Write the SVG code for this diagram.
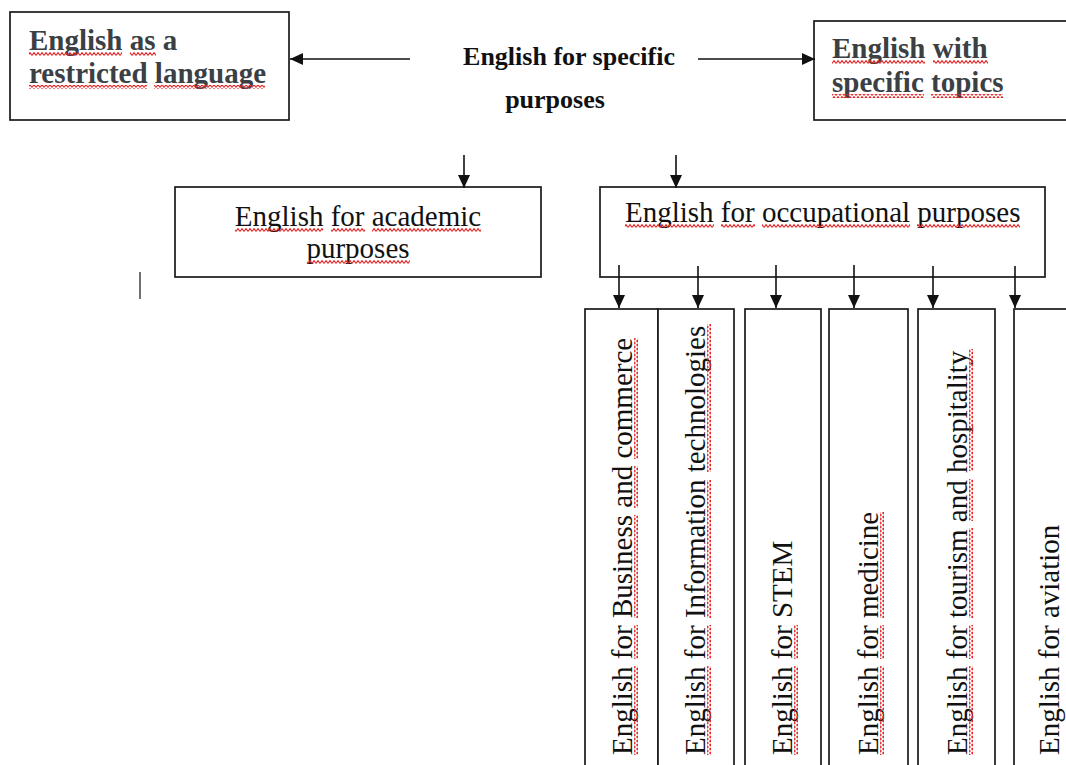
<svg xmlns="http://www.w3.org/2000/svg" width="1066" height="765" viewBox="0 0 1066 765">
<style>
.box{fill:#fff;stroke:#1a1a1a;stroke-width:1.7}
.t{font-family:"Liberation Serif","Times New Roman",serif;font-size:29px;fill:#111}
.tb{font-family:"Liberation Serif","Times New Roman",serif;font-size:29px;font-weight:bold;fill:#3b4045}
.tc{font-family:"Liberation Serif","Times New Roman",serif;font-size:26px;font-weight:bold;fill:#111}
.conn line{stroke:#111;stroke-width:1.6}
.sq{fill:url(#wave)}
</style>
<defs>
<marker id="ah" markerUnits="userSpaceOnUse" markerWidth="14" markerHeight="12" refX="13" refY="6" orient="auto">
<path d="M0,0 L13,6 L0,12 Z" fill="#111"/>
</marker>
<pattern id="wave" patternUnits="userSpaceOnUse" width="4" height="4">
<path d="M0 3.4 L2 0.6 L4 3.4" fill="none" stroke="#e52626" stroke-width="1.1"/>
</pattern>
</defs>
<rect width="1066" height="765" fill="#fff"/>

<g id="restricted">
<rect class="box" x="10" y="12" width="279" height="108"/>
<text class="tb" x="29" y="50">English as a</text>
<text class="tb" x="29" y="83">restricted language</text>
<rect class="sq" x="29" y="52" width="93" height="4"/>
<rect class="sq" x="130" y="52" width="26" height="4"/>
<rect class="sq" x="29" y="85" width="118" height="4"/>
<rect class="sq" x="154" y="85" width="111" height="4"/>
</g>

<g id="esp">
<text class="tc" x="569" y="65" text-anchor="middle">English for specific</text>
<text class="tc" x="555" y="108" text-anchor="middle">purposes</text>
</g>

<g id="topics">
<rect class="box" x="814" y="21" width="260" height="99"/>
<text class="tb" x="832" y="58">English with</text>
<text class="tb" x="832" y="92">specific topics</text>
<rect class="sq" x="832" y="60" width="93" height="4"/>
<rect class="sq" x="933" y="60" width="55" height="4"/>
<rect class="sq" x="832" y="94" width="92" height="4"/>
<rect class="sq" x="931" y="94" width="72" height="4"/>
</g>

<g id="academic">
<rect class="box" x="175" y="187" width="366" height="90"/>
<text class="t" x="358" y="226" text-anchor="middle">English for academic</text>
<text class="t" x="358" y="258" text-anchor="middle">purposes</text>
<rect class="sq" x="235" y="228" width="88" height="4"/>
<rect class="sq" x="331" y="228" width="34" height="4"/>
<rect class="sq" x="372" y="228" width="109" height="4"/>
<rect class="sq" x="307" y="260" width="103" height="4"/>
</g>

<g id="occupational">
<rect class="box" x="600" y="187" width="445" height="90"/>
<text class="t" x="625" y="222">English for occupational purposes</text>
<rect class="sq" x="625" y="224" width="89" height="4"/>
<rect class="sq" x="721" y="224" width="34" height="4"/>
<rect class="sq" x="762" y="224" width="148" height="4"/>
<rect class="sq" x="917" y="224" width="103" height="4"/>
</g>

<g id="business">
<rect class="box" x="585" y="309" width="73" height="470"/>
<g transform="translate(632,755) rotate(-90)">
<text class="t" x="0" y="0">English for Business and commerce</text>
<rect class="sq" x="0" y="2" width="89" height="4"/>
<rect class="sq" x="96" y="2" width="34" height="4"/>
<rect class="sq" x="137" y="2" width="103" height="4"/>
<rect class="sq" x="247" y="2" width="42" height="4"/>
<rect class="sq" x="296" y="2" width="121" height="4"/>
</g>
</g>

<g id="it">
<rect class="box" x="658" y="309" width="76" height="470"/>
<g transform="translate(705,755) rotate(-90)">
<text class="t" x="0" y="0">English for Information technologies</text>
<rect class="sq" x="0" y="2" width="89" height="4"/>
<rect class="sq" x="96" y="2" width="34" height="4"/>
<rect class="sq" x="137" y="2" width="138" height="4"/>
<rect class="sq" x="283" y="2" width="148" height="4"/>
</g>
</g>

<g id="stem">
<rect class="box" x="745" y="309" width="76" height="470"/>
<g transform="translate(792,755) rotate(-90)">
<text class="t" x="0" y="0">English for STEM</text>
<rect class="sq" x="0" y="2" width="89" height="4"/>
<rect class="sq" x="96" y="2" width="34" height="4"/>
</g>
</g>

<g id="medicine">
<rect class="box" x="829" y="309" width="79" height="470"/>
<g transform="translate(878,755) rotate(-90)">
<text class="t" x="0" y="0">English for medicine</text>
<rect class="sq" x="0" y="2" width="89" height="4"/>
<rect class="sq" x="96" y="2" width="34" height="4"/>
<rect class="sq" x="137" y="2" width="106" height="4"/>
</g>
</g>

<g id="tourism">
<rect class="box" x="918" y="309" width="77" height="470"/>
<g transform="translate(967,755) rotate(-90)">
<text class="t" x="0" y="0">English for tourism and hospitality</text>
<rect class="sq" x="0" y="2" width="89" height="4"/>
<rect class="sq" x="96" y="2" width="34" height="4"/>
<rect class="sq" x="137" y="2" width="90" height="4"/>
<rect class="sq" x="234" y="2" width="42" height="4"/>
<rect class="sq" x="284" y="2" width="122" height="4"/>
</g>
</g>

<g id="aviation">
<rect class="box" x="1014" y="309" width="80" height="470"/>
<g transform="translate(1059,755) rotate(-90)">
<text class="t" x="0" y="0">English for aviation</text>
</g>
</g>

<g id="connectors" class="conn">
<line x1="410" y1="59" x2="290" y2="59" marker-end="url(#ah)"/>
<line x1="698" y1="59" x2="815" y2="59" marker-end="url(#ah)"/>
<line x1="464" y1="155" x2="464" y2="188" marker-end="url(#ah)"/>
<line x1="676" y1="155" x2="676" y2="188" marker-end="url(#ah)"/>
<line x1="619" y1="265" x2="619" y2="308" marker-end="url(#ah)"/>
<line x1="698" y1="266" x2="698" y2="308" marker-end="url(#ah)"/>
<line x1="776" y1="265" x2="776" y2="308" marker-end="url(#ah)"/>
<line x1="854" y1="265" x2="854" y2="308" marker-end="url(#ah)"/>
<line x1="933" y1="266" x2="933" y2="308" marker-end="url(#ah)"/>
<line x1="1015" y1="266" x2="1015" y2="308" marker-end="url(#ah)"/>
</g>

<line x1="140" y1="272" x2="140" y2="299" stroke="#111" stroke-width="1.2"/>
</svg>
